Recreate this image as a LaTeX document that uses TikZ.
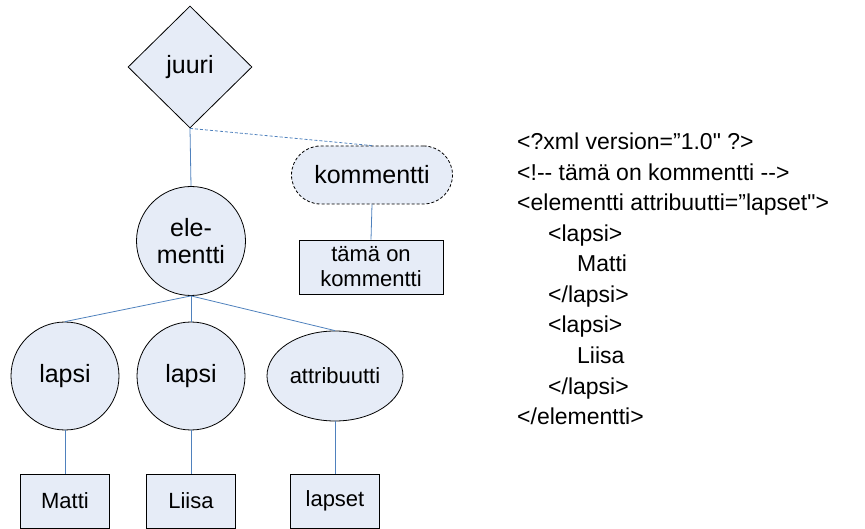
\documentclass[tikz,border=0pt]{standalone}
\usepackage{fontspec}
\setmainfont{Liberation Sans}[Ligatures=TeXOff]
\usetikzlibrary{shapes.geometric}
\definecolor{nodefill}{RGB}{230,236,247}
\definecolor{linkblue}{RGB}{79,129,189}
\tikzset{
  base/.style={draw=black, line width=0.8pt, fill=nodefill, inner sep=0pt, align=center},
  bigtxt/.style={font=\fontsize{25}{27}\selectfont},
  smalltxt/.style={font=\fontsize{22}{25}\selectfont},
  rootnode/.style={base, bigtxt, diamond, minimum width=124pt, minimum height=122pt},
  elemnode/.style={base, bigtxt, circle, minimum size=109pt},
  childnode/.style={base, bigtxt, circle, minimum size=108pt},
  attrnode/.style={base, smalltxt, ellipse, minimum width=136pt, minimum height=90pt},
  commnode/.style={base, bigtxt, dashed, dash pattern=on 3pt off 2pt, rectangle, rounded corners=29pt, minimum width=161pt, minimum height=58pt},
  leafbox/.style={base, smalltxt, rectangle, minimum width=89pt, minimum height=54pt},
  link/.style={draw=linkblue, line width=0.8pt},
  dashlink/.style={link, dash pattern=on 3pt off 2pt},
  code/.style={anchor=base west, inner sep=0pt, font=\fontsize{23}{28}\selectfont}
}
\begin{document}
\begin{tikzpicture}[x=1pt, y=-1pt]
  \useasboundingbox (0,0) rectangle (865,529);

  % tree nodes
  \node[rootnode]  (root)  at (190,67)  {juuri};
  \node[elemnode]  (elem)  at (191,241) {ele-\\mentti};
  \node[commnode]  (comm)  at (372,175) {kommentti};
  \node[leafbox, minimum width=144pt] (ctext) at (371,267) {tämä on\\kommentti};
  \node[childnode] (lapA)  at (65,376)  {lapsi};
  \node[childnode] (lapB)  at (191,376) {lapsi};
  \node[attrnode]  (attr)  at (335,376) {attribuutti};
  \node[leafbox]   (matti) at (65,501)  {Matti};
  \node[leafbox]   (liisa) at (191,501) {Liisa};
  \node[leafbox]   (lapset) at (335,501) {lapset};

  % connectors
  \draw[link] (root.south) -- (elem.north);
  \draw[dashlink] (root.south) -- (comm.north);
  \draw[link] (comm.south) -- (ctext.north);
  \draw[link] (elem.south) -- (lapA.north);
  \draw[link] (elem.south) -- (lapB.north);
  \draw[link] (elem.south) -- (attr.north);
  \draw[link] (lapA.south) -- (matti.north);
  \draw[link] (lapB.south) -- (liisa.north);
  \draw[link] (attr.south) -- (lapset.north);

  % XML source listing
  \node[code] (x1)  at (517,150)   {<?xml version=”1.0" ?>};
  \node[code] (x2)  at (517,180.5) {<!-- tämä on kommentti -->};
  \node[code] (x3)  at (517,211)   {<elementti attribuutti=”lapset">};
  \node[code] (x4)  at (548,241.5) {<lapsi>};
  \node[code] (x5)  at (577,272)   {Matti};
  \node[code] (x6)  at (548,302.5) {</lapsi>};
  \node[code] (x7)  at (548,333)   {<lapsi>};
  \node[code] (x8)  at (577,363.5) {Liisa};
  \node[code] (x9)  at (548,394)   {</lapsi>};
  \node[code] (x10) at (517,424.5) {</elementti>};
\end{tikzpicture}
\end{document}
